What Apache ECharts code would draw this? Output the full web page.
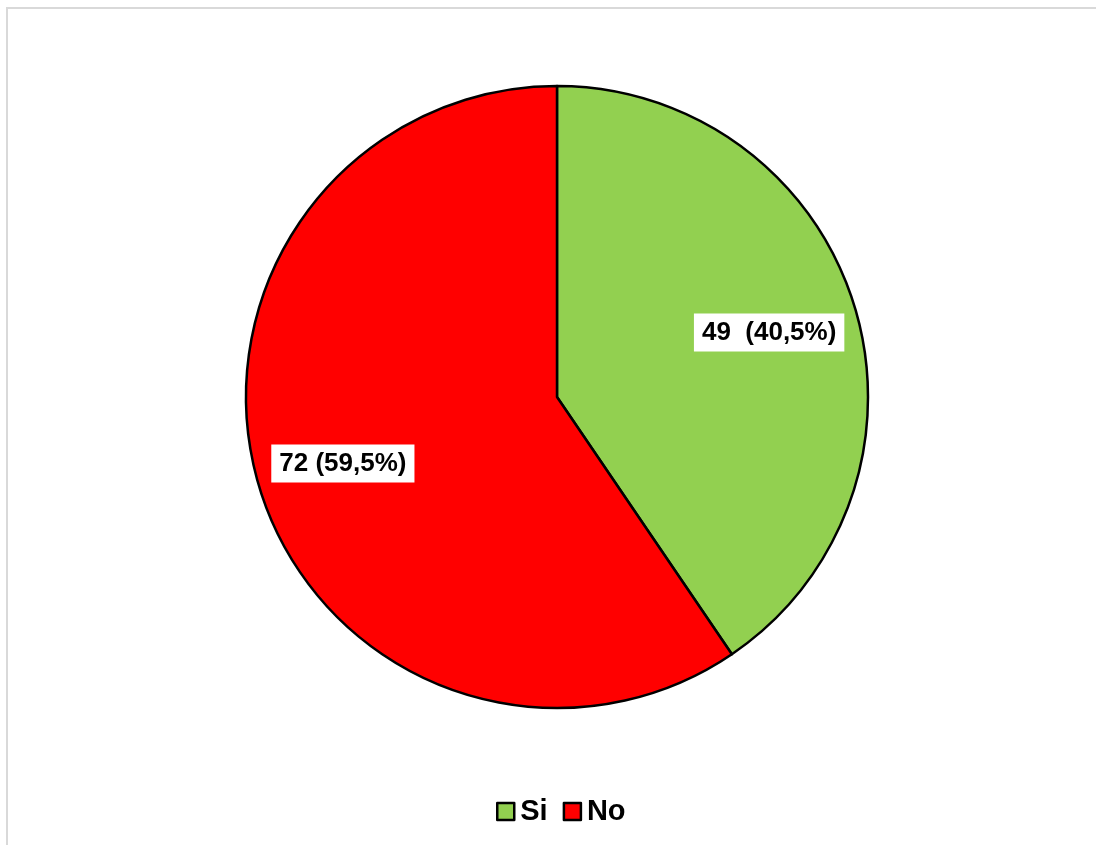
<!DOCTYPE html>
<html><head><meta charset="utf-8">
<script src="https://cdn.jsdelivr.net/npm/echarts@6/dist/echarts.min.js"></script>
<style>html,body{margin:0;padding:0;background:#fff}#c{width:1096px;height:845px}</style>
</head><body><div id="c"></div>
<script>
const categories = ['Si', 'No'];
const values = [49, 72];
const labels = ['49  (40,5%)', '72 (59,5%)'];
const colors = ['#92D050', '#FF0000'];

const chart = echarts.init(document.getElementById('c'));
const data = categories.map((n, i) => ({ name: n, value: values[i], itemStyle: { color: colors[i] } }));
const labelData = categories.map((n, i) => ({ name: n, value: values[i], label: { formatter: labels[i] } }));
chart.setOption({
  animation: false,
  graphic: [{ type: 'rect', shape: { x: 7, y: 8, width: 1100, height: 850 }, style: { fill: 'none', stroke: '#d9d9d9', lineWidth: 2 }, silent: true }],
  legend: {
    data: categories, top: 792, left: 491, itemWidth: 17, itemHeight: 17, itemGap: 15,
    icon: 'rect',
    itemStyle: { borderColor: '#000', borderWidth: 2.5 },
    textStyle: { fontFamily: 'Liberation Sans, Arial', fontWeight: 'bold', fontSize: 29, color: '#000', padding: [0,0,0,1] }
  },
  series: [
    { type: 'pie', center: [557, 397], radius: [0, 311], startAngle: 90, clockwise: true,
      itemStyle: { borderColor: '#000', borderWidth: 2.5 }, label: { show: false }, labelLine: { show: false },
      data: data, silent: true },
    { type: 'pie', center: [556, 398], radius: [129, 311], startAngle: 90, clockwise: true,
      itemStyle: { color: 'transparent', borderWidth: 0 }, labelLine: { show: false },
      label: { show: true, position: 'inside', fontFamily: 'Liberation Sans, Arial', fontWeight: 'bold', fontSize: 26, color: '#000',
        backgroundColor: '#fff', padding: [6, 8, 6, 8] },
      emphasis: { disabled: true }, legendHoverLink: false,
      data: labelData, silent: true }
  ]
});
</script></body></html>
